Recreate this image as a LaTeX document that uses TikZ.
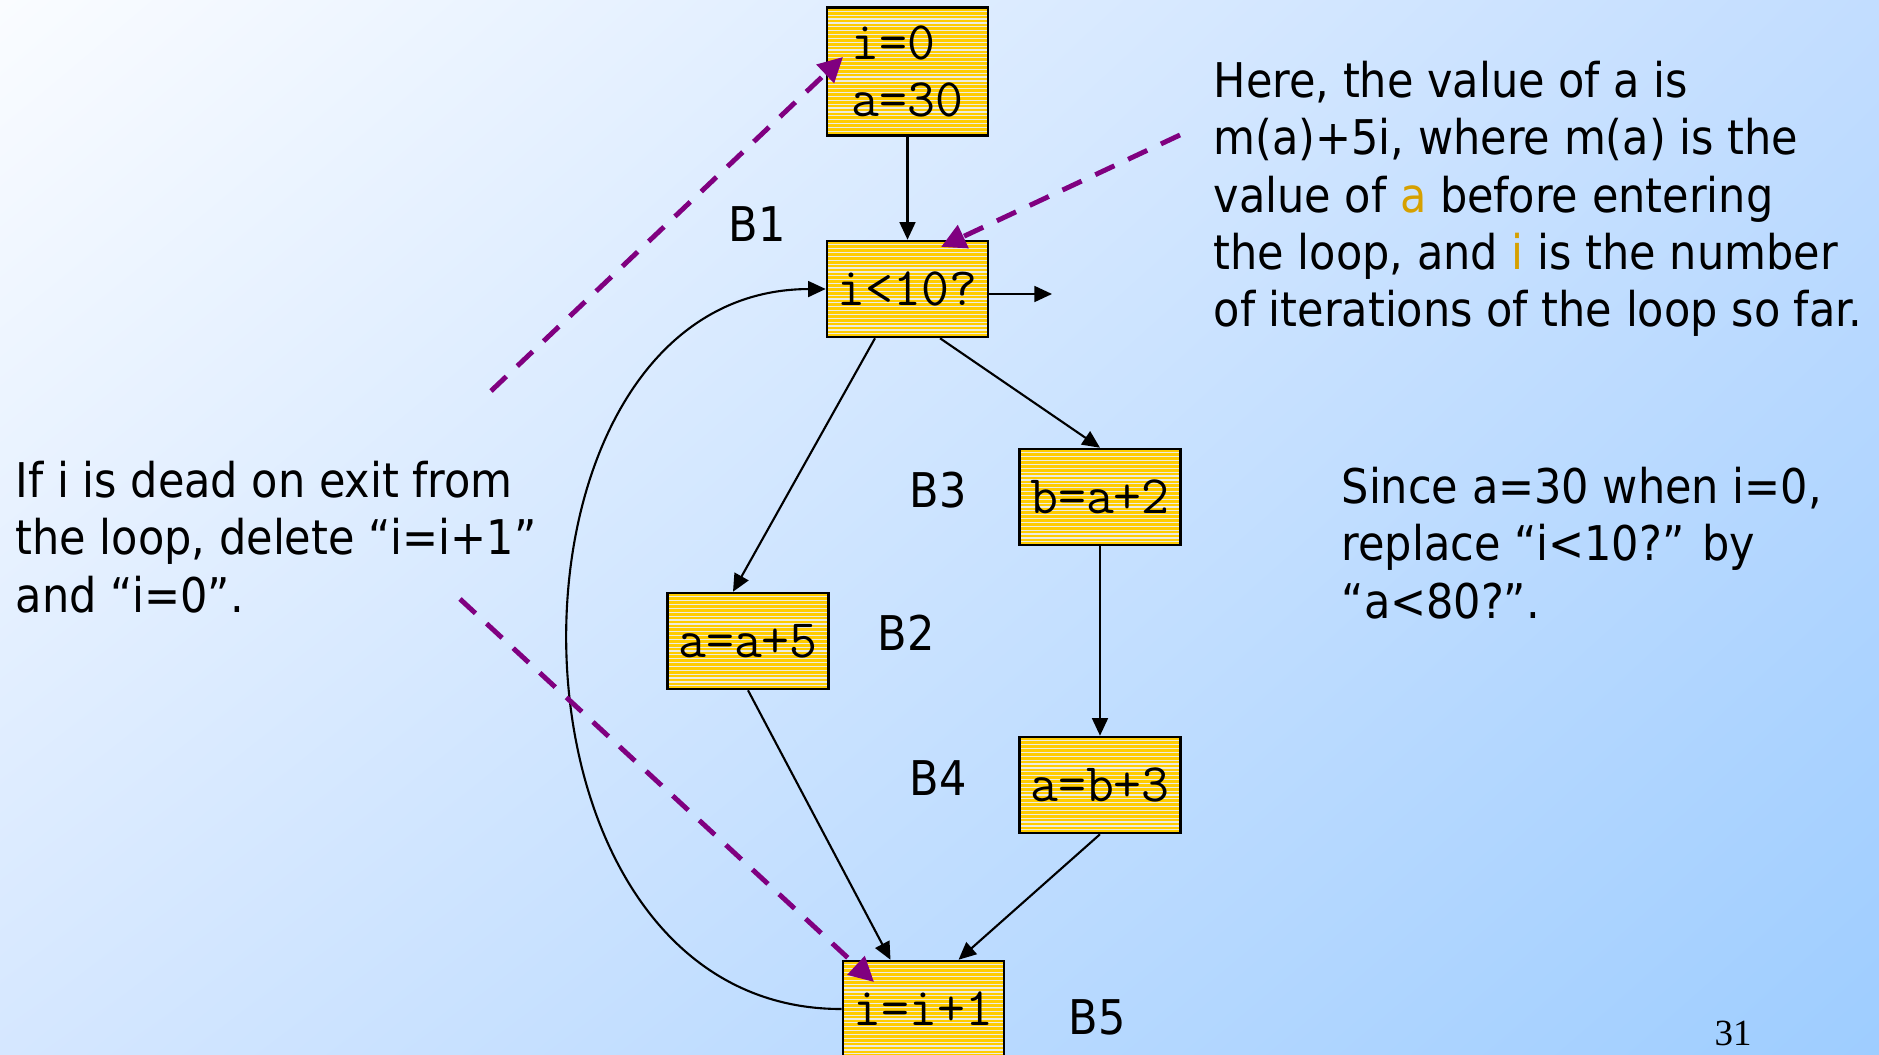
\documentclass[tikz,border=0pt]{standalone}
\usepackage{fontspec}
\setmainfont{DejaVu Sans Condensed}
\newfontfamily\pagefont{Liberation Serif}
\usetikzlibrary{arrows.meta, shadings}
\definecolor{boxgold}{RGB}{255,204,0}
\definecolor{stripe}{RGB}{236,236,226}
\definecolor{hint}{RGB}{128,0,128}
\definecolor{varcol}{RGB}{214,160,0}
\definecolor{bgtl}{RGB}{250,252,255}
\definecolor{bgtr}{RGB}{194,221,255}
\definecolor{bgbl}{RGB}{213,231,255}
\definecolor{bgbr}{RGB}{158,205,255}

\begin{document}
\begin{tikzpicture}[x=0.01cm,y=-0.01cm,
                    blk/.style={draw,line width=0.7pt,fill=boxgold,minimum width=1.61cm,
                    minimum height=0.96cm,inner sep=0pt,font=\ttfamily\fontsize{15.4}{16.2}\selectfont,
                    path picture={\foreach \k in {1,...,34}
                      \draw[stripe,line width=0.35pt] ([yshift=-\k*1.1pt]path picture bounding box.north west)
                        -- ([yshift=-\k*1.1pt]path picture bounding box.north east);}},
                    lbl/.style={font=\fontsize{13.6}{16.35}\selectfont},
                    note/.style={lbl,align=left,anchor=base west,inner sep=0pt},
                    arr/.style={-{Triangle[length=5pt,width=4.5pt]},line width=0.6pt},
                    hintarr/.style={-{Triangle[length=7pt,width=7pt]},hint,line width=1.4pt,
                    dash pattern=on 6pt off 4.3pt}
]
\useasboundingbox (0,0) rectangle (1879,1055);
\shade[upper left=bgtl,upper right=bgtr,lower left=bgbl,lower right=bgbr] (0,0) rectangle (1879,1055);

\node[blk,align=left,minimum height=1.28cm] (init) at (907.5,71.5) {i=0\\a=30};
\node[blk] (test) at (907.5,289) {i<10?};
\node[blk] (b3) at (1100,497) {b=a+2};
\node[blk] (b2) at (748,641) {a=a+5};
\node[blk] (b4) at (1100,785) {a=b+3};
\node[blk] (b5) at (923.5,1009) {i=i+1};

\node[lbl] (l1) at (757,224) {B1};
\node[lbl] (l3) at (938,490) {B3};
\node[lbl] (l2) at (906,633) {B2};
\node[lbl] (l4) at (938,778) {B4};
\node[lbl] (l5) at (1097,1017) {B5};
\node[font=\pagefont\fontsize{10.5}{12}\selectfont] (pg) at (1733,1033) {31};

\node[note] (dead) at (15,612) {If i is dead on exit from\\the loop, delete “i=i+1”\\and “i=0”.};
\node[note] (value) at (1213,327) {Here, the value of a is\\m(a)+5i, where m(a) is the\\value of \textcolor{varcol}{a} before entering\\the loop, and \textcolor{varcol}{i} is the number\\of iterations of the loop so far.};
\node[note] (since) at (1341,618) {Since a=30 when i=0,\\replace “i<10?” by\\“a<80?”.};

\coordinate (out) at (1052,294);
\draw[arr] (init) -- (test);
\draw[arr] (test.east |- out) -- (out);
\draw[arr] ([xshift=-0.325cm]test.south) -- ([xshift=-0.15cm]b2.north);
\draw[arr] ([xshift=0.325cm]test.south) -- (b3.north);
\draw[arr] (b3) -- (b4);
\draw[arr] (b2.south) -- ([xshift=-0.33cm]b5.north);
\draw[arr] (b4.south) -- ([xshift=0.35cm]b5.north);
\draw[arr] (b5.west) .. controls (480,1010) and (480,290) .. (test.west);

\coordinate (h1) at (491,391);
\coordinate (h2) at (1180,135);
\coordinate (h3) at (460,599);
\coordinate (t1) at (843,57);
\coordinate (t2) at (941,247);
\coordinate (t3) at (874,982);
\draw[hintarr] (h1) -- (t1);
\draw[hintarr] (h2) -- (t2);
\draw[hintarr] (h3) -- (t3);
\end{tikzpicture}
\end{document}
